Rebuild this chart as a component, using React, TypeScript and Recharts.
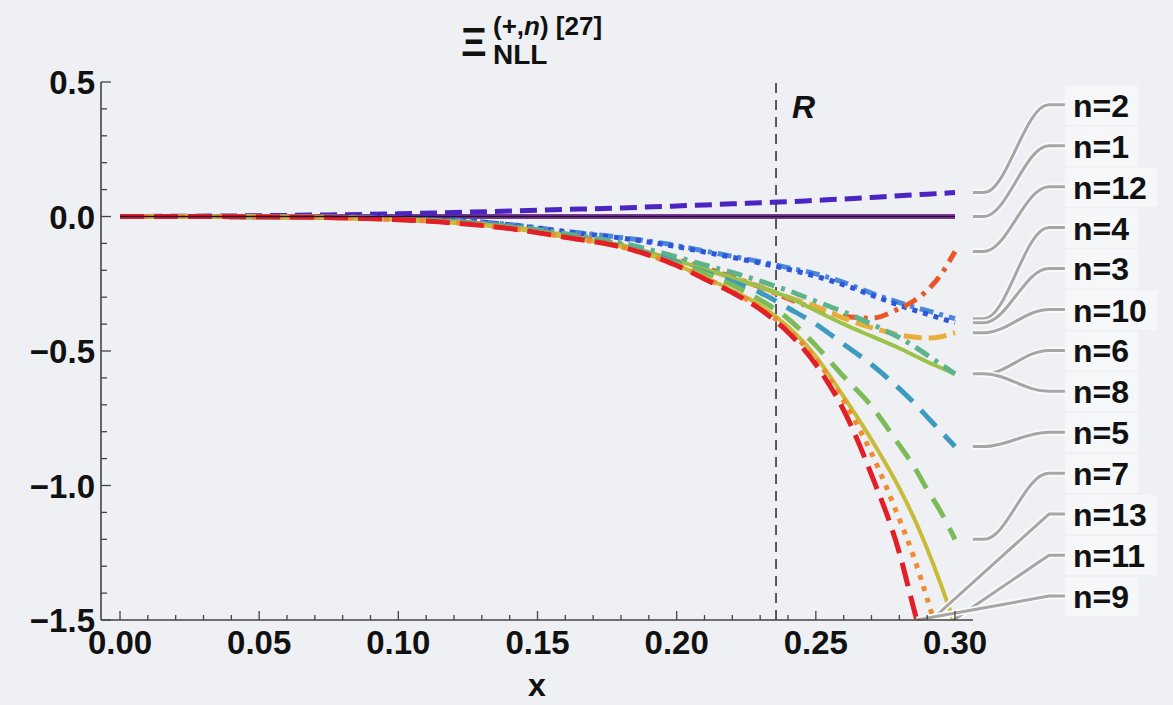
import { LineChart, Line, XAxis, YAxis, ReferenceLine } from 'recharts'

const FONT = '"Liberation Sans", Arial, Helvetica, sans-serif'
const BG = '#eef0f3'
const FRAME = '#444'

// sample points along x
const xs = [0, 0.025, 0.05, 0.075, 0.1, 0.12, 0.14, 0.16, 0.18, 0.2, 0.21, 0.22, 0.23, 0.24, 0.25, 0.26, 0.27, 0.28, 0.285, 0.29, 0.295, 0.3]

// curves
const n1 = [0, 0, 0, 0, 0, 0, 0, 0, 0, 0, 0, 0, 0, 0, 0, 0, 0, 0, 0, 0, 0, 0]
const n2 = [0, 0.001, 0.003, 0.006, 0.01, 0.015, 0.02, 0.026, 0.032, 0.039, 0.043, 0.047, 0.051, 0.055, 0.06, 0.065, 0.071, 0.077, 0.08, 0.083, 0.086, 0.089]
const n3 = [0, 0, -0.001, -0.002, -0.006, -0.013, -0.031, -0.057, -0.08, -0.112, -0.132, -0.152, -0.173, -0.196, -0.222, -0.254, -0.292, -0.33, -0.347, -0.363, -0.379, -0.395]
const n4 = [0, 0, -0.001, -0.002, -0.006, -0.013, -0.03, -0.055, -0.078, -0.108, -0.128, -0.148, -0.168, -0.19, -0.213, -0.245, -0.285, -0.32, -0.336, -0.35, -0.365, -0.38]
const n5 = [0, 0, -0.001, -0.003, -0.01, -0.021, -0.041, -0.073, -0.11, -0.17, -0.207, -0.243, -0.283, -0.34, -0.4, -0.475, -0.55, -0.64, -0.69, -0.745, -0.8, -0.855]
const n6 = [0, 0, -0.001, -0.003, -0.01, -0.02, -0.04, -0.072, -0.108, -0.165, -0.195, -0.228, -0.262, -0.3, -0.35, -0.4, -0.445, -0.49, -0.515, -0.54, -0.563, -0.585]
const n7 = [0, 0, -0.001, -0.004, -0.011, -0.022, -0.042, -0.075, -0.111, -0.176, -0.21, -0.255, -0.31, -0.38, -0.48, -0.595, -0.705, -0.85, -0.925, -1.015, -1.1, -1.2]
const n8 = [0, 0, -0.001, -0.003, -0.009, -0.018, -0.036, -0.064, -0.098, -0.15, -0.18, -0.208, -0.24, -0.275, -0.315, -0.355, -0.4, -0.45, -0.48, -0.515, -0.55, -0.585]
const n9 = [0, 0, -0.001, -0.004, -0.012, -0.024, -0.045, -0.077, -0.113, -0.182, -0.232, -0.283, -0.345, -0.43, -0.55, -0.72, -0.96, -1.25, -1.45, -1.65, -1.9, -2.15]
const n10 = [0, 0, -0.001, -0.003, -0.01, -0.02, -0.04, -0.072, -0.108, -0.165, -0.195, -0.228, -0.262, -0.3, -0.335, -0.378, -0.413, -0.44, -0.448, -0.452, -0.447, -0.432]
const n11 = [0, 0, -0.001, -0.004, -0.011, -0.023, -0.043, -0.076, -0.112, -0.18, -0.226, -0.275, -0.33, -0.41, -0.52, -0.67, -0.83, -1.01, -1.115, -1.235, -1.37, -1.52]
const n12 = [0, 0, -0.001, -0.003, -0.01, -0.02, -0.04, -0.07, -0.105, -0.16, -0.19, -0.225, -0.262, -0.305, -0.343, -0.37, -0.378, -0.342, -0.315, -0.275, -0.215, -0.13]
const n13 = [0, 0, -0.001, -0.004, -0.011, -0.023, -0.044, -0.077, -0.113, -0.182, -0.228, -0.278, -0.34, -0.42, -0.53, -0.685, -0.88, -1.125, -1.26, -1.42, -1.6, -1.8]

const R_X = 0.2357

// ticks
const xTicks = [0, 0.01, 0.02, 0.03, 0.04, 0.05, 0.06, 0.07, 0.08, 0.09, 0.1, 0.11, 0.12, 0.13, 0.14, 0.15, 0.16, 0.17, 0.18, 0.19, 0.2, 0.21, 0.22, 0.23, 0.24, 0.25, 0.26, 0.27, 0.28, 0.29, 0.3]
const xMajor = [0, 0.05, 0.1, 0.15, 0.2, 0.25, 0.3]
const xLabels = ['0.00', '0.05', '0.10', '0.15', '0.20', '0.25', '0.30']
const topTicks = [0, 0.02, 0.04, 0.06, 0.08, 0.1, 0.12, 0.14, 0.16, 0.18, 0.2, 0.22, 0.24, 0.26, 0.28, 0.3]
const yTicks = [-1.5, -1.4, -1.3, -1.2, -1.1, -1, -0.9, -0.8, -0.7, -0.6, -0.5, -0.4, -0.3, -0.2, -0.1, 0, 0.1, 0.2, 0.3, 0.4, 0.5]
const yMajor = [-1.5, -1, -0.5, 0, 0.5]
const yLabels = ['\u22121.5', '\u22121.0', '\u22120.5', '0.0', '0.5']

// callouts (top to bottom); exitX is where a curve leaves the frame at the bottom
const calloutLabels = ['n=2', 'n=1', 'n=12', 'n=4', 'n=3', 'n=10', 'n=6', 'n=8', 'n=5', 'n=7', 'n=13', 'n=11', 'n=9']
const calloutKeys = ['n2', 'n1', 'n12', 'n4', 'n3', 'n10', 'n6', 'n8', 'n5', 'n7', 'n13', 'n11', 'n9']
const calloutExitX = [null, null, null, null, null, null, null, null, null, null, 0.2915, 0.2995, 0.2862]
const calloutLabelY = [0.415, 0.263, 0.111, -0.041, -0.193, -0.346, -0.498, -0.65, -0.802, -0.954, -1.106, -1.259, -1.411]

const X_DOMAIN: [number, number] = [-0.00683, 0.30647]
const Y_DOMAIN: [number, number] = [-1.5, 0.5]
const CALLOUT_X = 0.3395

const series: Record<string, number[]> = { n1, n2, n3, n4, n5, n6, n7, n8, n9, n10, n11, n12, n13 }

const data = xs.map((x, i) => {
  const row: Record<string, number> = { x }
  Object.keys(series).forEach((k) => (row[k] = series[k][i]))
  return row
})

const styles = [
  { key: 'n1', color: '#7b3b98', width: 5, dash: undefined },
  { key: 'n2', color: '#4b24c2', width: 5, dash: '17 8' },
  { key: 'n4', color: '#4a88dd', width: 5, dash: '14 6 4 6' },
  { key: 'n3', color: '#2f56d8', width: 5, dash: '5 6' },
  { key: 'n12', color: '#e8562a', width: 5, dash: '14 7 4 7' },
  { key: 'n10', color: '#e9ae3a', width: 5, dash: '18 7' },
  { key: 'n6', color: '#9dc24a', width: 4, dash: undefined },
  { key: 'n8', color: '#5db48c', width: 5, dash: '16 7 4 7' },
  { key: 'n5', color: '#3e9bc0', width: 5, dash: '22 12' },
  { key: 'n7', color: '#7dbb58', width: 5, dash: '22 12' },
  { key: 'n11', color: '#c9bb3a', width: 4, dash: undefined },
  { key: 'n13', color: '#ef8b33', width: 5, dash: '5 7' },
  { key: 'n9', color: '#e21f26', width: 5, dash: '24 10' },
]

const near = (arr: number[], v: number) => arr.findIndex((a) => Math.abs(a - v) < 1e-9)

function BottomTick(p: any) {
  const i = near(xMajor, p.payload.value)
  return (
    <g>
      <line x1={p.x} y1={p.y} x2={p.x} y2={p.y - (i >= 0 ? 9 : 5)} stroke={FRAME} strokeWidth={1.3} />
      {i >= 0 && (
        <text x={p.x} y={p.y + 34} textAnchor="middle" fontFamily={FONT} fontWeight="bold" fontSize={33} fill="#111">
          {xLabels[i]}
        </text>
      )}
    </g>
  )
}

function TopTick(p: any) {
  return <line x1={p.x} y1={p.y} x2={p.x} y2={p.y + 7} stroke={FRAME} strokeWidth={1.3} />
}

function LeftTick(p: any) {
  const i = near(yMajor, p.payload.value)
  return (
    <g>
      <line x1={p.x} y1={p.y} x2={p.x + (i >= 0 ? 10 : 6)} y2={p.y} stroke={FRAME} strokeWidth={1.3} />
      {i >= 0 && (
        <text x={p.x - 6} y={p.y + 12} textAnchor="end" fontFamily={FONT} fontWeight="bold" fontSize={33} fill="#111">
          {yLabels[i]}
        </text>
      )}
    </g>
  )
}

function RightTick(p: any) {
  const i = near(yMajor, p.payload.value)
  return <line x1={p.x} y1={p.y} x2={p.x - (i >= 0 ? 10 : 6)} y2={p.y} stroke={FRAME} strokeWidth={1.3} />
}

function calloutShape(label: string, fromFrame: boolean) {
  return (p: any) => {
    const { x1, y1, x2, y2 } = p
    const xb = x2 - 16
    const d = fromFrame
      ? `M${x1},${y1} H${x1 + 11} C${x1 + 34},${y1} ${xb - 24},${y2} ${xb},${y2} H${x2}`
      : `M${x1},${y1} L${xb},${y2} H${x2}`
    const w = label.length > 3 ? 92 : 73
    return (
      <g>
        <path d={d} fill="none" stroke="#fafafa" strokeWidth={6.5} strokeLinejoin="round" />
        <path d={d} fill="none" stroke="#a6a6a6" strokeWidth={3} strokeLinejoin="round" />
        <rect x={x2} y={y2 - 19} width={w} height={39} fill="#f6f7f9" />
        <text x={x2 + 8} y={y2 + 12} fontFamily={FONT} fontWeight="bold" fontSize={32} fill="#111">
          {label}
        </text>
      </g>
    )
  }
}

export default function App() {
  return (
    <div style={{ position: 'absolute', left: 0, top: 0, width: 1173, height: 705, background: BG }}>
      <LineChart width={1173} height={705} data={data} margin={{ top: 82, right: 200, bottom: 0, left: 21 }}>
        <XAxis
          dataKey="x"
          type="number"
          domain={X_DOMAIN}
          allowDataOverflow
          ticks={xTicks}
          interval={0}
          height={85}
          tickSize={0}
          tickMargin={0}
          tickLine={false}
          tick={<BottomTick />}
          axisLine={{ stroke: FRAME, strokeWidth: 1.6 }}
        />
        <XAxis
          xAxisId="top"
          orientation="top"
          dataKey="x"
          type="number"
          domain={X_DOMAIN}
          allowDataOverflow
          ticks={topTicks}
          interval={0}
          height={0}
          tickSize={0}
          tickMargin={0}
          tickLine={false}
          tick={<TopTick />}
          axisLine={{ stroke: FRAME, strokeWidth: 1.6 }}
        />
        <YAxis
          type="number"
          domain={Y_DOMAIN}
          allowDataOverflow
          ticks={yTicks}
          interval={0}
          width={80}
          tickSize={0}
          tickMargin={0}
          tickLine={false}
          tick={<LeftTick />}
          axisLine={{ stroke: FRAME, strokeWidth: 1.6 }}
        />
        <YAxis
          yAxisId="right"
          orientation="right"
          type="number"
          domain={Y_DOMAIN}
          allowDataOverflow
          ticks={yTicks}
          interval={0}
          width={0}
          tickSize={0}
          tickMargin={0}
          tickLine={false}
          tick={<RightTick />}
          axisLine={{ stroke: FRAME, strokeWidth: 1.6 }}
        />
        <ReferenceLine
          x={R_X}
          stroke="#333"
          strokeWidth={1.6}
          strokeDasharray="10 7"
          label={(p: any) => (
            <text
              x={p.viewBox.x + 16}
              y={p.viewBox.y + 36}
              fontFamily={FONT}
              fontWeight="bold"
              fontStyle="italic"
              fontSize={32}
              fill="#111"
            >
              R
            </text>
          )}
        />
        {styles.map((s) => (
          <Line
            key={s.key}
            type="monotone"
            dataKey={s.key}
            stroke={s.color}
            strokeWidth={s.width}
            strokeDasharray={s.dash}
            dot={false}
            activeDot={false}
            isAnimationActive={false}
          />
        ))}
        <Line
          type="monotone"
          dataKey="n1"
          stroke="#2a0c36"
          strokeWidth={1.6}
          dot={false}
          activeDot={false}
          isAnimationActive={false}
        />
        {calloutLabels.map((label, i) => {
          const exitX = calloutExitX[i]
          const vals = series[calloutKeys[i]]
          const from = exitX == null ? { x: X_DOMAIN[1], y: vals[vals.length - 1] } : { x: exitX, y: Y_DOMAIN[0] }
          return (
            <ReferenceLine
              key={label}
              ifOverflow="visible"
              segment={[from, { x: CALLOUT_X, y: calloutLabelY[i] }]}
              shape={calloutShape(label, exitX == null)}
            />
          )
        })}
      </LineChart>
      <svg width={1173} height={705} style={{ position: 'absolute', left: 0, top: 0, pointerEvents: 'none' }}>
        <text x={461} y={56} fontFamily={FONT} fontWeight="bold" fontSize={40} fill="#111">
          Ξ
        </text>
        <text x={493} y={35} fontFamily={FONT} fontWeight="bold" fontSize={26} fill="#111">
          (+,<tspan fontStyle="italic">n</tspan>) [27]
        </text>
        <text x={493} y={64} fontFamily={FONT} fontWeight="bold" fontSize={28} fill="#111">
          NLL
        </text>
        <text x={537} y={696} textAnchor="middle" fontFamily={FONT} fontWeight="bold" fontSize={32} fill="#111">
          x
        </text>
      </svg>
    </div>
  )
}
